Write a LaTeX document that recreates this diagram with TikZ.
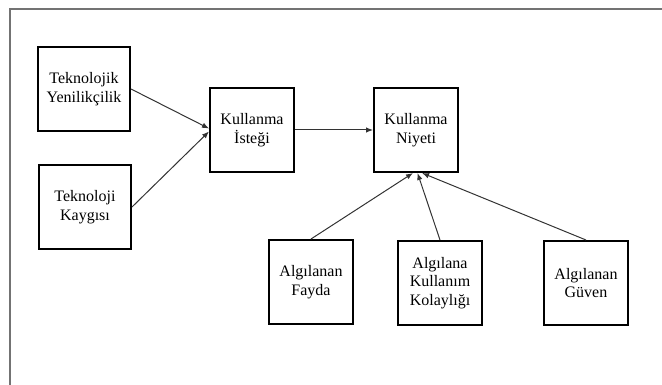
\documentclass[tikz,border=0pt]{standalone}
\usepackage{fontspec}
\setmainfont{Liberation Serif}
\usepackage{tikz}
\usetikzlibrary{arrows.meta}

\begin{document}
\begin{tikzpicture}[x=1pt, y=-1pt, >={Latex[length=7pt,width=5.5pt]},
    box/.style={draw, rectangle, line width=2pt, minimum width=84pt, minimum height=84pt, align=center, font=\fontsize{16}{18.5}\selectfont},
    wide/.style={box, minimum width=92pt},
    link/.style={->, line width=1pt, draw=black!80}]
    \useasboundingbox (0,0) rectangle (662,385);
    % Outer frame
    \draw[line width=1.5pt, draw=black!55] (10,385) -- (10,9) -- (662,9);

    % Inputs
    \node[wide] (TY) at (84,89) {Teknolojik\\Yenilikçilik};
    \node[wide] (TK) at (85,207) {Teknoloji\\Kaygısı};

    % Intention
    \node[box] (KI) at (252,130) {Kullanma\\İsteği};
    \node[box] (KN) at (416,130) {Kullanma\\Niyeti};

    % Perceptions
    \node[box] (AF) at (311,282) {Algılanan\\Fayda};
    \node[box] (AKK) at (440,283) {Algılana\\Kullanım\\Kolaylığı};
    \node[box] (AG) at (586,283) {Algılanan\\Güven};

    % Arrows
    \draw[link] (TY.east) -- (KI.178);
    \draw[link] (TK.east) -- (KI.182);
    \draw[link] (KI.east) -- (KN.west);
    \draw[link] (AF.north) -- (KN.-94);
    \draw[link] (AKK.north) -- (KN.-88);
    \draw[link] (AG.north) -- (KN.-82);
\end{tikzpicture}
\end{document}
